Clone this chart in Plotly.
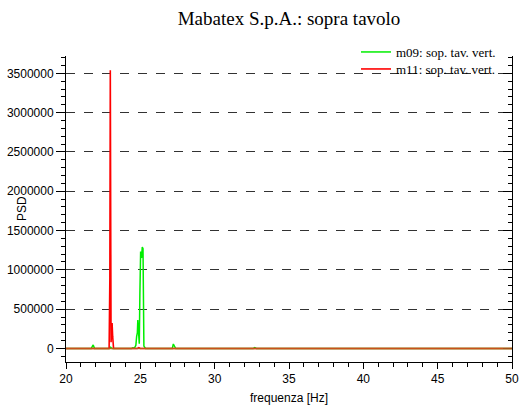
import plotly.graph_objects as go

# m09: sop. tav. vert. (green)
freq_m09 = [20.0, 21.7, 21.78, 21.83, 21.92, 22.9, 23.0, 23.1, 24.4, 24.5, 24.6, 24.65,
            24.7, 24.75, 24.8, 24.83, 24.88, 24.93, 24.97, 25.02, 25.08, 25.13, 25.18,
            25.24, 25.35, 27.15, 27.22, 27.3, 27.38, 32.6, 32.7, 32.8, 50.0]
psd_m09 = [0, 0, 30000, 45000, 0, 0, 15000, 0, 0, 8000, 5000, 20000,
           40000, 150000, 200000, 362000, 110000, 60000, 700000, 1232000, 1150000, 1290000, 1270000,
           30000, 0, 0, 57000, 20000, 0, 0, 10000, 0, 0]

# m11: sop. tav. vert. (red)
freq_m11 = [20.0, 22.9, 22.95, 22.98, 23.03, 23.1, 23.14, 23.2, 24.8, 24.9, 25.0, 50.0]
psd_m11 = [0, 0, 900000, 3540000, 80000, 323000, 150000, 0, 0, 10000, 0, 0]

x_range = [20, 50]
y_range = [-172000, 3720000]
x_ticks = [20, 25, 30, 35, 40, 45, 50]
y_ticks = [0, 500000, 1000000, 1500000, 2000000, 2500000, 3000000, 3500000]

title_text = "Mabatex S.p.A.: sopra tavolo"
x_title = "frequenza [Hz]"
y_title = "PSD"
names = ["m09: sop. tav. vert.", "m11: sop. tav. vert."]

sans = "Liberation Sans, Arial, sans-serif"
serif = "Liberation Serif, Times New Roman, serif"

fig = go.Figure()
fig.add_trace(go.Scatter(x=freq_m09, y=psd_m09, mode="lines", name=names[0],
                         line=dict(color="#00ee00", width=1.5), yaxis="y", legend="legend"))
fig.add_trace(go.Scatter(x=freq_m11, y=psd_m11, mode="lines", name=names[1],
                         line=dict(color="#ff0000", width=1.6), yaxis="y2", legend="legend2"))

# brownish baseline where the two series overlap at zero
fig.add_hline(y=0, line=dict(color="rgba(190,95,30,0.85)", width=1.6), layer="above")

leg_common = dict(xanchor="left", yanchor="middle", bgcolor="rgba(0,0,0,0)",
                  font=dict(family=serif, size=13, color="black"), borderwidth=0)
lx = (356 - 66) / 446

fig.update_layout(
    width=520, height=408,
    margin=dict(l=66, r=8, t=56, b=46, autoexpand=False),
    paper_bgcolor="white", plot_bgcolor="white",
    title=dict(text=title_text, x=0.5, xref="paper", y=1 - 18 / 408, yanchor="middle",
               font=dict(family=serif, size=19, color="black")),
    showlegend=True,
    legend=dict(x=lx, y=(362 - 52) / 306, **leg_common),
    legend2=dict(x=lx, y=(362 - 69) / 306, **leg_common),
    font=dict(family=sans, size=12, color="black"),
    xaxis=dict(range=x_range, tickvals=x_ticks, ticks="outside", ticklen=6, tickwidth=1,
               tickcolor="black", showline=True, linecolor="black", linewidth=1,
               showgrid=False, zeroline=False, mirror=False, automargin=False,
               minor=dict(dtick=1, ticks="outside", ticklen=4, tickcolor="black", showgrid=False),
               tickfont=dict(family=sans, size=12, color="black")),
    yaxis=dict(range=y_range, tickvals=y_ticks, ticks="outside", ticklen=9, tickwidth=1,
               tickcolor="black", showline=True, linecolor="black", linewidth=1,
               showgrid=True, gridcolor="rgb(50,50,50)", griddash="dash", gridwidth=1,
               zeroline=False, tickformat="d", automargin=False,
               minor=dict(dtick=100000, tick0=0, ticks="outside", ticklen=4, tickcolor="black",
                          showgrid=False),
               tickfont=dict(family=sans, size=12, color="black")),
    yaxis2=dict(range=y_range, overlaying="y", side="right", tickvals=y_ticks,
                ticks="inside", ticklen=9, tickcolor="black", showticklabels=False,
                showline=True, linecolor="black", linewidth=1, showgrid=False,
                zeroline=False, automargin=False,
                minor=dict(dtick=100000, tick0=0, ticks="inside", ticklen=4, tickcolor="black",
                           showgrid=False)),
)

fig.add_annotation(text=y_title, textangle=-90, xref="paper", yref="paper",
                   x=(22 - 66) / 446, y=0.5, xanchor="center", yanchor="middle",
                   showarrow=False, font=dict(family=sans, size=12, color="black"))
fig.add_annotation(text=x_title, xref="paper", yref="paper",
                   x=0.5, y=(362 - 398) / 306, xanchor="center", yanchor="middle",
                   showarrow=False, font=dict(family=sans, size=12, color="black"))

fig.write_html("out.html")
